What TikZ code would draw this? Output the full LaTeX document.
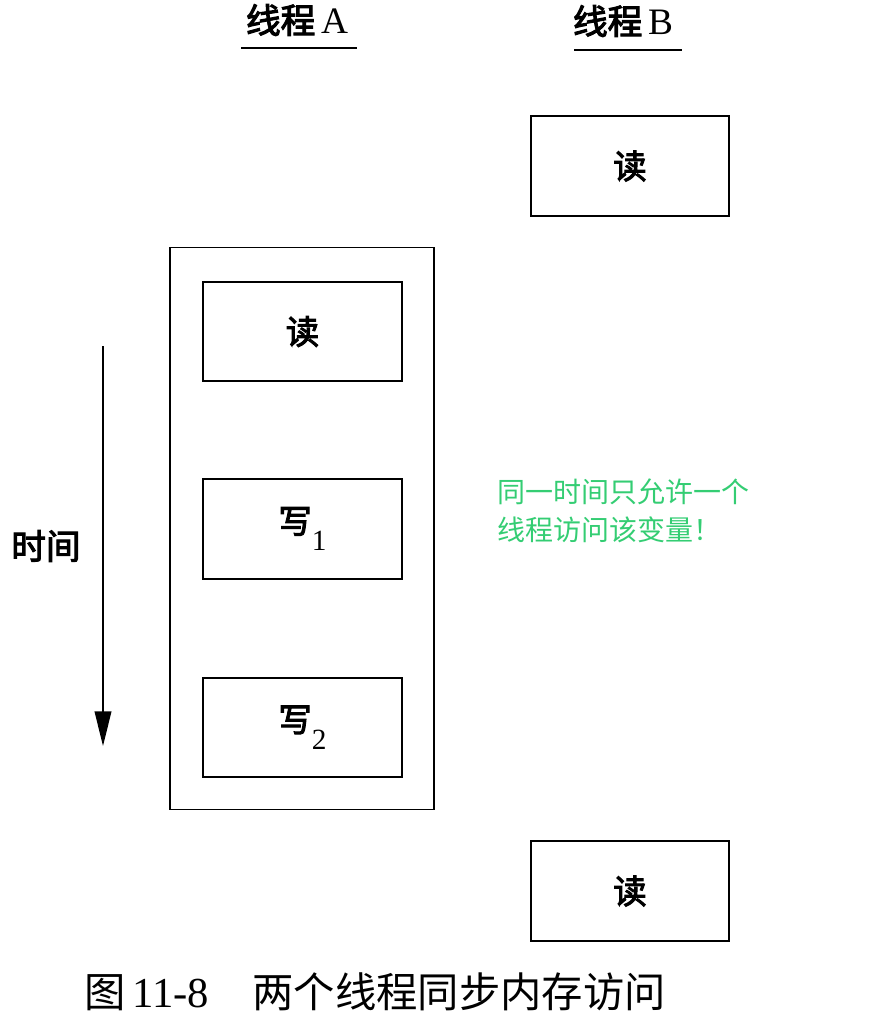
\documentclass[tikz,border=0pt]{standalone}
\usepackage{fontspec}
\newfontfamily\cjk{Noto Sans CJK SC}
\newfontfamily\cjkm{Noto Sans CJK SC}[FakeBold=3]
\newfontfamily\lat{Liberation Serif}
\usetikzlibrary{arrows.meta}
\definecolor{note}{RGB}{52,205,115}
\newcommand\mysub[1]{\raisebox{-13pt}{\lat\fontsize{22}{22}\selectfont #1}}
\begin{document}
\begin{tikzpicture}[x=0.75pt,y=-0.75pt,
  box/.style={draw,line width=1.3pt,inner sep=0pt,minimum width=149pt,minimum height=74.5pt,
              font=\cjkm\fontsize{25}{25}\selectfont},
  outer/.style={draw,line width=1.3pt,inner sep=0pt,minimum width=198pt,minimum height=421.5pt},
  title/.style={inner sep=0pt,font=\cjkm\fontsize{26}{26}\selectfont},
  uline/.style={line width=2pt},
  timearrow/.style={line width=1.3pt,-{Triangle[length=26pt,width=12.5pt]}},
  note/.style={inner sep=0pt,align=left,text=note,font=\cjk\fontsize{21}{28.5}\selectfont},
  caption/.style={inner sep=0pt,font=\cjk\fontsize{31}{31}\selectfont}]
\useasboundingbox (0,0) rectangle (873,1029);
% titles
\node[title] (tA) at (297,20) {线程\,{\lat\fontsize{28}{28}\selectfont A}};
\node[title] (tB) at (623,21) {线程\,{\lat\fontsize{28}{28}\selectfont B}};
\draw[uline] (241,48) -- (357,48);
\draw[uline] (574,50) -- (682,50);
% thread B
\node[box] (bR1) at (630,166) {读};
\node[box] (bR2) at (630,891) {读};
% thread A
\node[outer] (aOut) at (302,528.5) {};
\node[box] (aR) at (302.5,331.5) {读};
\node[box] (aW1) at (302.5,529) {写\mysub{1}};
\node[box] (aW2) at (302.5,727.5) {写\mysub{2}};
% time arrow
\coordinate (tTop) at (103,346);
\coordinate (tBot) at (103,746);
\draw[timearrow] (tTop) -- (tBot);
\node[title] (time) at (46,546) {时间};
% note
\node[note,anchor=north west] (nt) at (497,479) {同一时间只允许一个\\线程访问该变量！};
% caption
\node[caption,anchor=west] (cap) at (84,992) {图\,{\lat\fontsize{32}{32}\selectfont 11-8}\hspace{1.05em}两个线程同步内存访问};
\end{tikzpicture}
\end{document}
